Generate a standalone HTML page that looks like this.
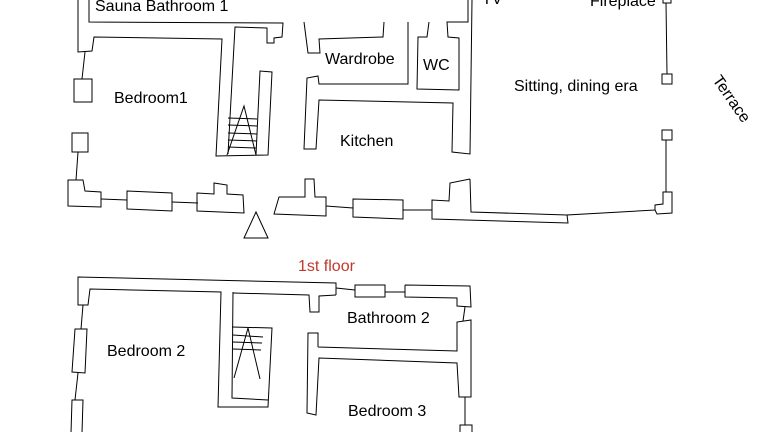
<!DOCTYPE html>
<html><head><meta charset="utf-8"><style>
html,body{margin:0;padding:0;background:#fff;}
svg{display:block;}
text{font-family:"Liberation Sans",Arial,sans-serif;font-size:16px;fill:#000;}
</style></head><body>
<svg width="768" height="432" viewBox="0 0 768 432" xmlns="http://www.w3.org/2000/svg">
<g fill="none" stroke="#000" stroke-width="1">
<polyline points="78,0 78,52 92,51 94,37 222,39 216,156 268,155 272,72 260,71 256,155"/>
<polyline points="89,0 89,22 283,23 282,37 274,38 274,43 267,43 267,28 235,27 228,154"/>
<line x1="228" y1="118" x2="257" y2="119"/><line x1="228" y1="125" x2="257" y2="126"/>
<line x1="228" y1="133" x2="257" y2="134"/><line x1="228" y1="140" x2="257" y2="141"/>
<line x1="228" y1="147" x2="256" y2="148"/>
<polyline points="227,155 244,106 256,155"/>
<polyline points="304,22 308,53 320,53 319,39 383,37 384,22"/>
<polyline points="408,22 408,84 319,84 318,76 307,78 304,149 316,149 319,100 453,103 452,152 470,154 472,0"/>
<polyline points="468,0 468,22 447,22 448,37 459,38 459,90 417,89 418,37 427,37 429,22"/>
<line x1="85" y1="52" x2="82" y2="79"/>
<rect x="74" y="79" width="18" height="23"/>
<rect x="72" y="133" width="16" height="19"/>
<line x1="78" y1="152" x2="76" y2="180"/>
<polygon points="68,180 83,180 85,191 101,192 101,207 68,206"/>
<line x1="101" y1="199" x2="127" y2="200"/>
<polygon points="127,191 172,193 172,211 127,209"/>
<line x1="172" y1="202" x2="198" y2="203"/>
<polygon points="197,193 214,194 214,183 227,185 227,194 243,195 244,213 197,211"/>
<polygon points="244,238 268,238 256,212"/>
<polygon points="274,214 279,197 305,197 305,179 314,179 315,197 326,197 326,216"/>
<line x1="326" y1="206" x2="353" y2="208"/>
<polygon points="353,199 403,200 403,219 353,217"/>
<line x1="403" y1="210" x2="432" y2="210"/>
<polyline points="470,179 450,183 449,201 432,200 432,219 568,223 567,215 655,210 657,214 672,213 672,192 663,192 663,204 655,205 655,210"/>
<polyline points="470,179 471,212 567,215"/>
<rect x="663" y="-1" width="8" height="4"/>
<line x1="666" y1="3" x2="667" y2="74"/>
<rect x="662" y="74" width="10" height="10"/>
<rect x="662" y="130" width="10" height="10"/>
<line x1="666" y1="140" x2="666" y2="192"/>
<polyline points="336,295 336,283 78,277 78,305 88,305 90,289 221,292 218,407 268,407 272,328 232,327"/>
<polyline points="233,292 232,398 268,400"/>
<polyline points="233,293 309,295 310,312 319,312 319,296 336,295"/>
<line x1="233" y1="335" x2="263" y2="337"/><line x1="233" y1="342" x2="262" y2="343"/>
<line x1="233" y1="349" x2="261" y2="350"/>
<polyline points="234,378 248,328 260,379"/>
<line x1="336" y1="288" x2="355" y2="290"/>
<rect x="355" y="285" width="30" height="12"/>
<line x1="385" y1="292" x2="405" y2="292"/>
<polyline points="405,285 470,286 471,307 457,306 457,298 405,297 405,285"/>
<line x1="465" y1="307" x2="463" y2="321"/>
<polyline points="318,347 318,333 308,333 307,413 316,415 319,358 457,363 459,397 471,397 471,320 457,322 457,351 318,347"/>
<line x1="465" y1="397" x2="465" y2="425"/>
<rect x="460" y="425" width="12" height="10"/>
<line x1="83" y1="305" x2="81" y2="329"/>
<polygon points="75,329 87,329 85,373 72,372"/>
<line x1="78" y1="373" x2="75" y2="400"/>
<polygon points="72,400 83,400 82,433 71,433"/>
</g>
<text x="95" y="11">Sauna Bathroom 1</text>
<text x="482" y="4">TV</text>
<text x="590" y="6">Fireplace</text>
<text x="114" y="103">Bedroom1</text>
<text x="325" y="64">Wardrobe</text>
<text x="423" y="70">WC</text>
<text x="340" y="146">Kitchen</text>
<text x="514" y="91">Sitting, dining era</text>
<text x="0" y="0" transform="translate(712,80) rotate(55)">Terrace</text>
<text x="298" y="271" style="fill:#c0392b">1st floor</text>
<text x="347" y="323">Bathroom 2</text>
<text x="107" y="356">Bedroom 2</text>
<text x="348" y="416">Bedroom 3</text>
</svg>
</body></html>
